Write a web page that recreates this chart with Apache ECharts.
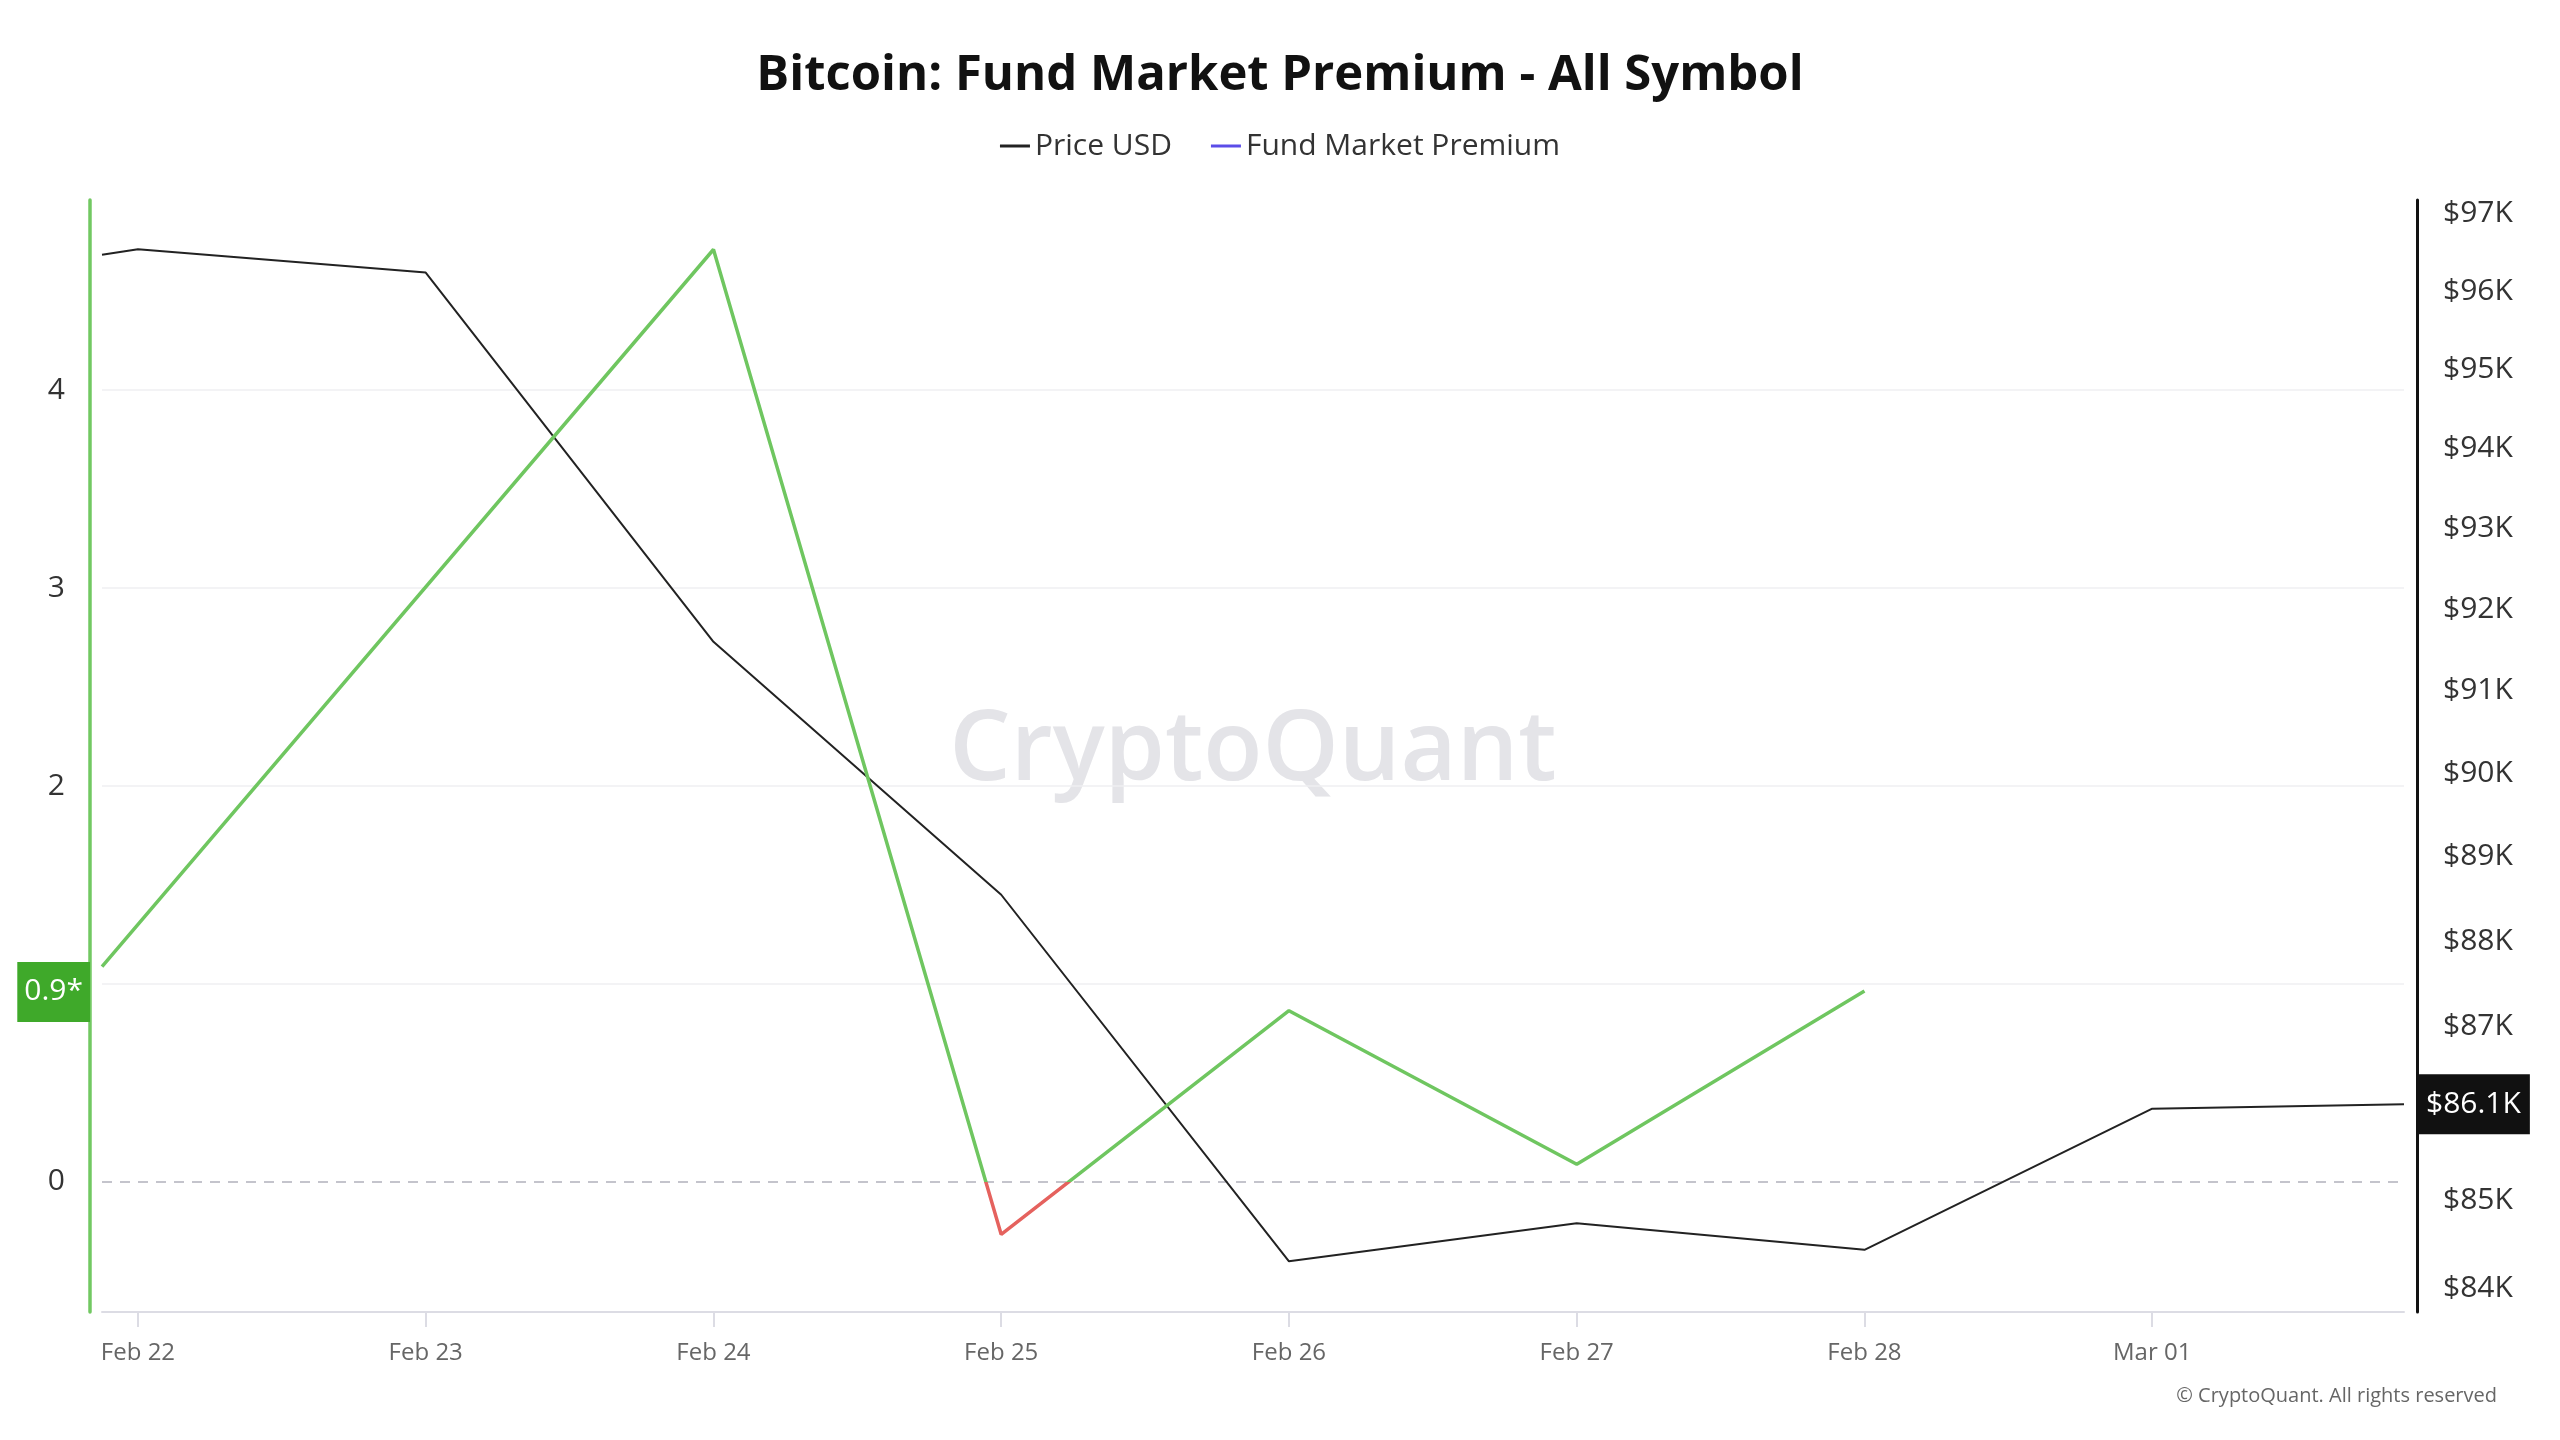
<!DOCTYPE html>
<html>
<head>
<meta charset="utf-8">
<script src="https://cdn.jsdelivr.net/npm/echarts@6/dist/echarts.min.js"></script>
<style>
html,body{margin:0;padding:0;background:#fff;}
#chart{width:2560px;height:1440px;}
</style>
</head>
<body>
<div id="chart"></div>
<script>
// ---- data ----
const priceTimes = ['2025-02-21T21:00:00Z','2025-02-22T00:00:00Z','2025-02-23T00:00:00Z','2025-02-24T00:00:00Z','2025-02-25T00:00:00Z','2025-02-26T00:00:00Z','2025-02-27T00:00:00Z','2025-02-28T00:00:00Z','2025-03-01T00:00:00Z','2025-03-01T21:00:00Z'];
const priceValues = [96470, 96540, 96240, 91600, 88550, 84310, 84740, 84440, 86050, 86100];
const premiumTimes = ['2025-02-21T21:00:00Z','2025-02-24T00:00:00Z','2025-02-25T00:00:00Z','2025-02-26T00:00:00Z','2025-02-27T00:00:00Z','2025-02-28T00:00:00Z'];
const premiumValues = [1.087, 4.71, -0.265, 0.865, 0.089, 0.964];
const xTickDates = ['2025-02-22','2025-02-23','2025-02-24','2025-02-25','2025-02-26','2025-02-27','2025-02-28','2025-03-01'];
const leftTicks = [0, 1, 2, 3, 4];
const rightTicks = [84000, 85000, 86000, 87000, 88000, 89000, 90000, 91000, 92000, 93000, 94000, 95000, 96000, 97000];
const lastPriceLabel = '$86.1K';
const lastPremiumLabel = '0.9*';
const months = ['Jan','Feb','Mar','Apr','May','Jun','Jul','Aug','Sep','Oct','Nov','Dec'];

const ts = s => Date.parse(s.length === 10 ? s + 'T00:00:00Z' : s);
const priceData = priceTimes.map((t, i) => [ts(t), priceValues[i]]);
const premiumData = premiumTimes.map((t, i) => [ts(t), premiumValues[i]]);
const FONT = '"Open Sans", "Noto Sans", sans-serif';
const CLEAR = 'rgba(0,0,0,0)';

const chart = echarts.init(document.getElementById('chart'));
chart.setOption({
  animation: false,
  backgroundColor: '#ffffff',
  title: {
    text: 'Bitcoin: Fund Market Premium - All Symbol',
    left: 'center',
    top: 47,
    textStyle: { fontSize: 49, fontWeight: 'bold', color: '#111', fontFamily: FONT }
  },
  legend: {
    top: 126,
    left: 'center',
    icon: 'rect',
    itemWidth: 30,
    itemHeight: 3,
    itemGap: 39,
    textStyle: { fontSize: 30, color: '#333', fontFamily: FONT },
    data: [
      { name: 'Price USD', itemStyle: { color: '#222' } },
      { name: 'Fund Market Premium', itemStyle: { color: '#5b4de8' } }
    ]
  },
  grid: { left: 102, right: 156, top: 200, bottom: 128, containLabel: false },
  xAxis: {
    type: 'value',
    min: priceData[0][0],
    max: priceData[priceData.length - 1][0],
    axisLine: { show: true, onZero: false, lineStyle: { color: '#dcdce4', width: 2 } },
    axisTick: { show: true, length: 15, lineStyle: { color: '#dcdce4', width: 2 }, customValues: xTickDates.map(ts) },
    axisLabel: {
      customValues: xTickDates.map(ts),
      margin: 29,
      fontSize: 24,
      color: '#666',
      fontFamily: FONT,
      formatter: v => { const d = new Date(v); return months[d.getUTCMonth()] + ' ' + String(d.getUTCDate()).padStart(2, '0'); }
    },
    splitLine: { show: false }
  },
  yAxis: [
    {
      type: 'value',
      position: 'left',
      offset: 12,
      min: -0.657,
      max: 4.96,
      axisLine: { show: true, onZero: false, lineStyle: { color: '#72c862', width: 3.5 } },
      axisTick: { show: false },
      axisLabel: { customValues: leftTicks, margin: 25, fontSize: 30, color: '#333', fontFamily: FONT },
      splitLine: { show: false }
    },
    {
      type: 'log',
      position: 'right',
      offset: 13,
      min: 83740,
      max: 97180,
      axisLine: { show: true, onZero: false, lineStyle: { color: '#111', width: 3 } },
      axisTick: { show: false },
      axisLabel: {
        customValues: rightTicks, margin: 26, fontSize: 30, color: '#333', fontFamily: FONT,
        formatter: v => '$' + Math.round(v / 1000) + 'K'
      },
      splitLine: { show: false }
    }
  ],
  visualMap: {
    show: false,
    type: 'piecewise',
    seriesIndex: 1,
    dimension: 1,
    pieces: [
      { gt: -100, lt: 0, color: '#e5625e' },
      { gte: 0, lte: 100, color: '#6fc660' }
    ],
    outOfRange: { color: '#6fc660' }
  },
  graphic: [
    {
      type: 'text', x: 1253, y: 752, z: 0, silent: true,
      style: { text: 'CryptoQuant', align: 'center', verticalAlign: 'middle', fontSize: 97, fontWeight: 600, fontFamily: FONT, fill: '#e4e4e8' }
    },
    {
      type: 'text', x: 2497, y: 1396, z: 0, silent: true,
      style: { text: '\u00a9 CryptoQuant. All rights reserved', align: 'right', verticalAlign: 'middle', fontSize: 20, fontFamily: FONT, fill: '#666' }
    }
  ],
  series: [
    {
      name: 'Price USD',
      type: 'line',
      yAxisIndex: 1,
      data: priceData,
      showSymbol: false,
      color: '#222',
      lineStyle: { color: '#222', width: 2 },
      z: 3,
      markLine: {
        silent: true,
        symbol: ['none', 'none'],
        z: 6,
        data: [
          {
            yAxis: priceValues[priceValues.length - 1],
            lineStyle: { color: CLEAR, width: 1 },
            label: {
              show: true, position: 'end', distance: 13, formatter: lastPriceLabel,
              color: '#fff', backgroundColor: '#111', padding: [15, 9, 15, 9],
              fontSize: 30, fontFamily: FONT, lineHeight: 30
            }
          }
        ]
      }
    },
    {
      name: 'Fund Market Premium',
      type: 'line',
      yAxisIndex: 0,
      data: premiumData,
      showSymbol: false,
      color: '#5b4de8',
      lineStyle: { width: 3.5 },
      z: 4,
      markLine: {
        silent: true,
        symbol: ['none', 'none'],
        z: 1,
        data: [
          { yAxis: leftTicks[1], lineStyle: { color: '#efeff2', width: 1.5, type: 'solid' }, label: { show: false } },
          { yAxis: leftTicks[2], lineStyle: { color: '#efeff2', width: 1.5, type: 'solid' }, label: { show: false } },
          { yAxis: leftTicks[3], lineStyle: { color: '#efeff2', width: 1.5, type: 'solid' }, label: { show: false } },
          { yAxis: leftTicks[4], lineStyle: { color: '#efeff2', width: 1.5, type: 'solid' }, label: { show: false } },
          { yAxis: leftTicks[0], lineStyle: { color: '#c4c4cc', width: 2, type: [10, 8] }, label: { show: false } },
          {
            yAxis: premiumValues[premiumValues.length - 1],
            lineStyle: { color: CLEAR, width: 1 },
            label: {
              show: true, position: 'start', distance: 12, formatter: lastPremiumLabel,
              color: '#fff', backgroundColor: '#3fa92a', padding: [15, 7, 15, 7],
              fontSize: 30, fontFamily: FONT, lineHeight: 30
            }
          }
        ]
      }
    }
  ]
});
</script>
</body>
</html>
